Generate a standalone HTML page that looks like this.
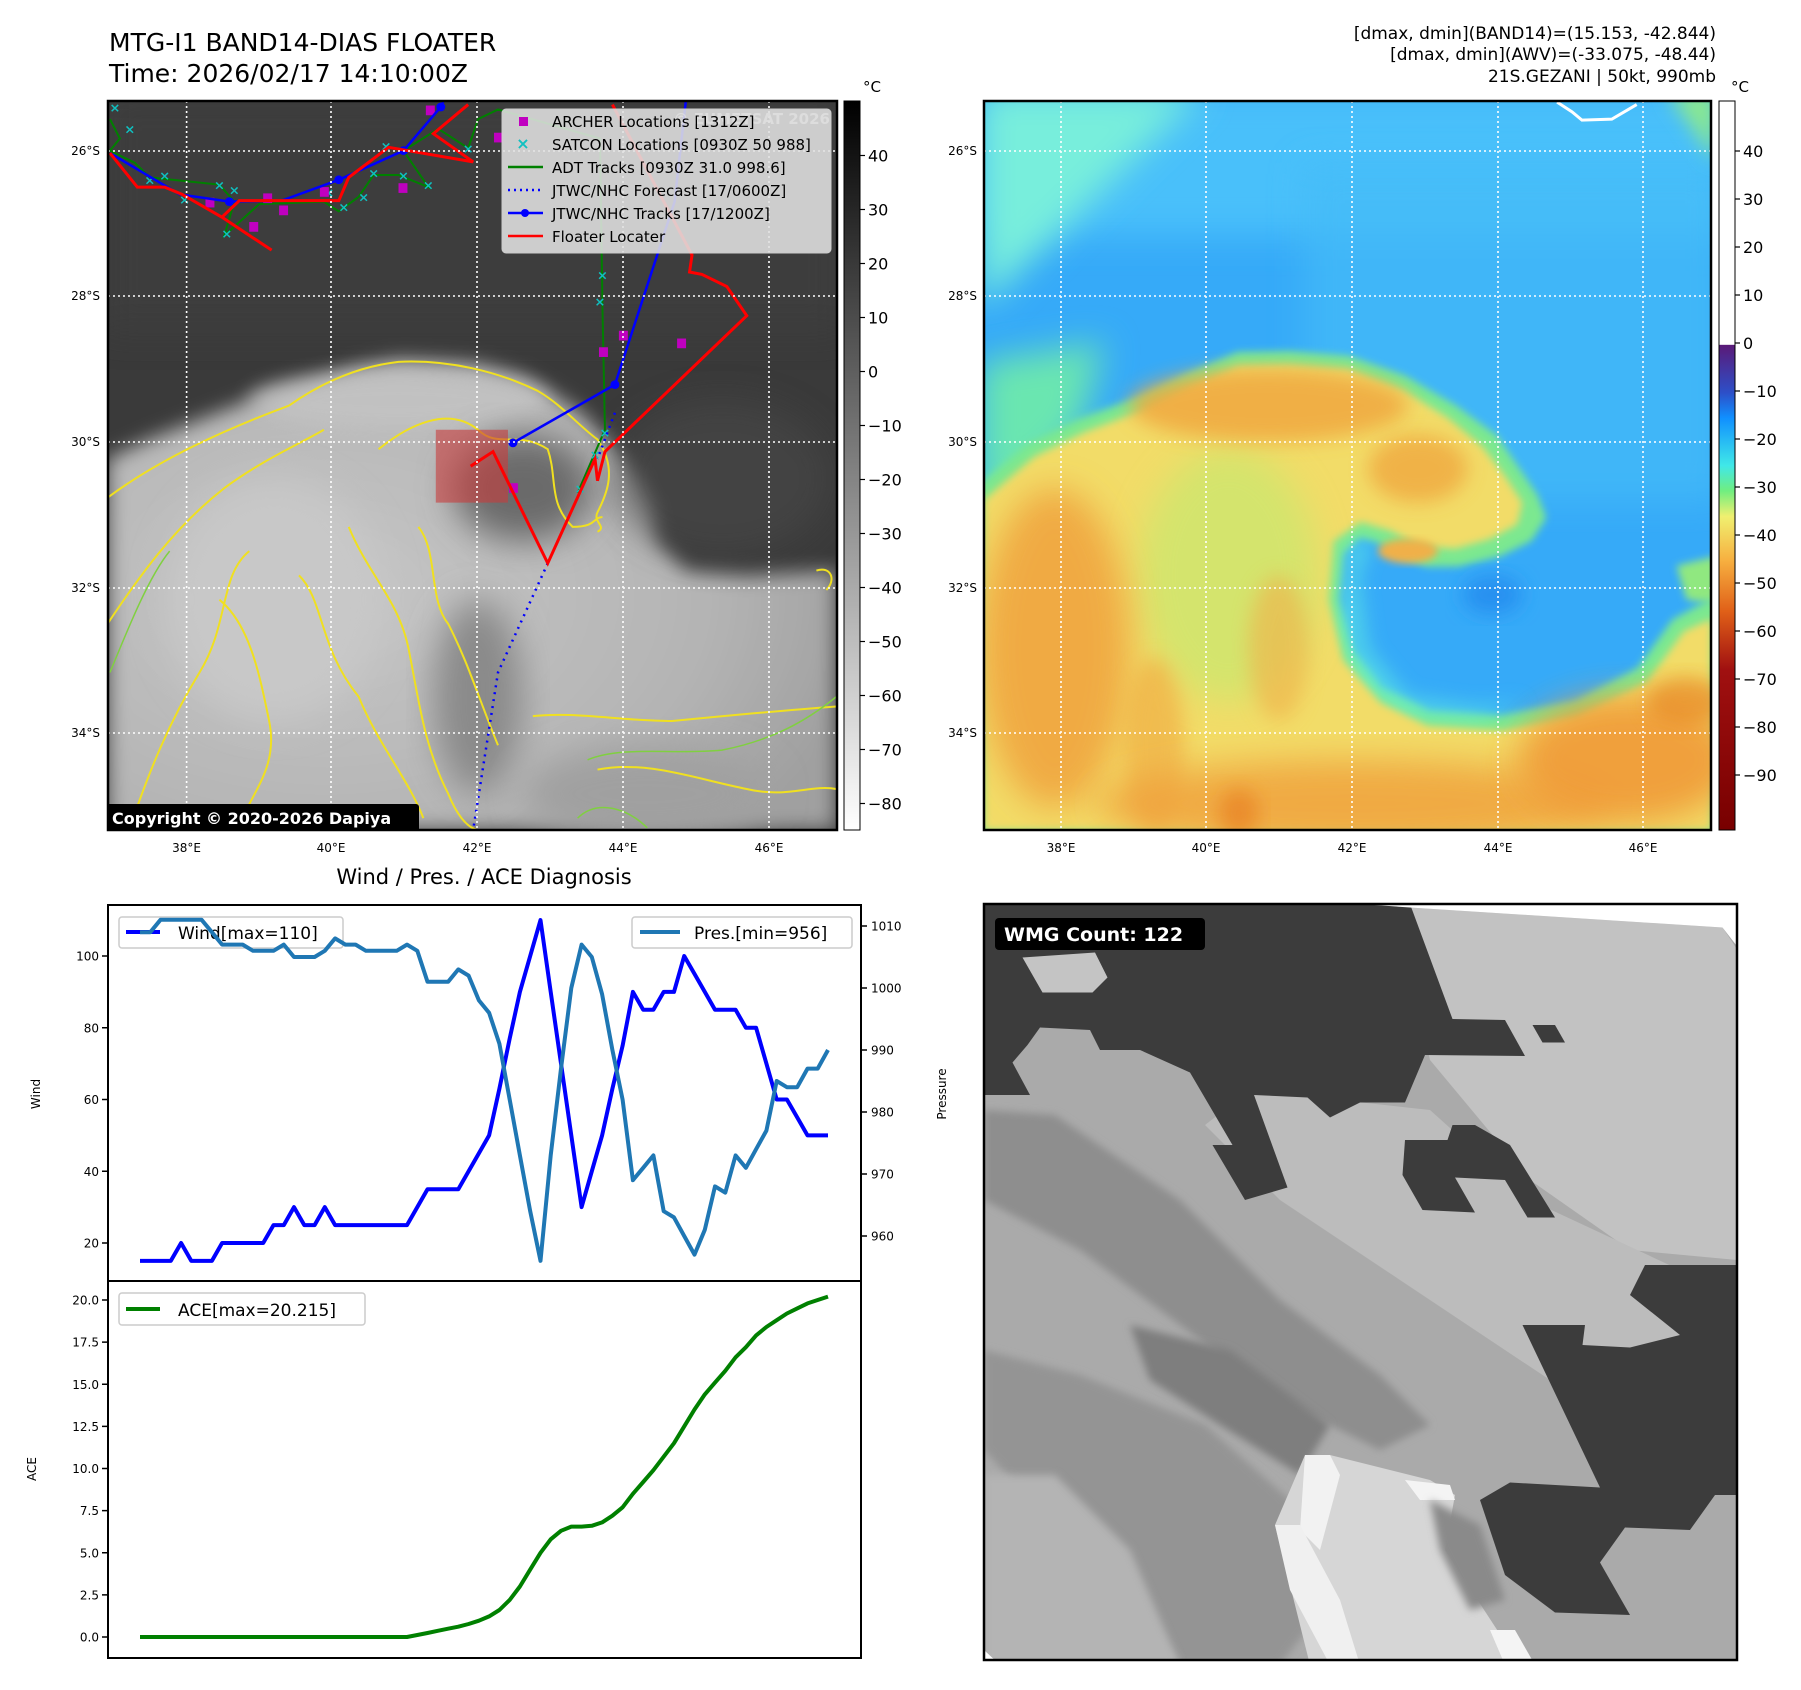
<!DOCTYPE html>
<html><head><meta charset="utf-8">
<style>
html,body{margin:0;padding:0;background:#fff;}
svg{display:block;font-family:"DejaVu Sans","Liberation Sans",sans-serif;}
</style></head>
<body>
<svg id="fig" width="1801" height="1690" viewBox="0 0 1801 1690" xmlns="http://www.w3.org/2000/svg">
<defs>
  <clipPath id="clipL"><rect x="108" y="101" width="729" height="729"/></clipPath>
  <clipPath id="clipR"><rect x="984" y="101" width="727" height="729"/></clipPath>
  <clipPath id="clipB"><rect x="984" y="904" width="753" height="756"/></clipPath>
  <filter id="blur8" x="-20%" y="-20%" width="140%" height="140%"><feGaussianBlur stdDeviation="8"/></filter>
  <filter id="blur20" x="-30%" y="-30%" width="160%" height="160%"><feGaussianBlur stdDeviation="20"/></filter>
  <filter id="blur35" x="-30%" y="-30%" width="160%" height="160%"><feGaussianBlur stdDeviation="35"/></filter>
  <linearGradient id="cbGray" x1="0" y1="0" x2="0" y2="1">
    <stop offset="0" stop-color="#000"/><stop offset="1" stop-color="#fff"/>
  </linearGradient>
  <linearGradient id="cbColor" x1="0" y1="0" x2="0" y2="1">
    <stop offset="0" stop-color="#ffffff"/>
    <stop offset="0.334" stop-color="#ffffff"/>
    <stop offset="0.335" stop-color="#5a1a78"/>
    <stop offset="0.40" stop-color="#2d4fc8"/>
    <stop offset="0.435" stop-color="#1090ff"/>
    <stop offset="0.50" stop-color="#40e8e8"/>
    <stop offset="0.535" stop-color="#70ee80"/>
    <stop offset="0.57" stop-color="#f0f070"/>
    <stop offset="0.63" stop-color="#f7b040"/>
    <stop offset="0.70" stop-color="#e06018"/>
    <stop offset="0.78" stop-color="#a01010"/>
    <stop offset="1" stop-color="#780000"/>
  </linearGradient>
  <radialGradient id="cloudG" cx="0.3" cy="0.5" r="0.75">
    <stop offset="0" stop-color="#c6c6c6"/><stop offset="0.7" stop-color="#b4b4b4"/><stop offset="1" stop-color="#a0a0a0"/>
  </radialGradient>
</defs>

<!-- Titles -->
<text x="109" y="51" font-size="25" fill="#000">MTG-I1 BAND14-DIAS FLOATER</text>
<text x="109" y="82" font-size="25" fill="#000">Time: 2026/02/17 14:10:00Z</text>
<text x="1716" y="39" font-size="17" text-anchor="end">[dmax, dmin](BAND14)=(15.153, -42.844)</text>
<text x="1716" y="60" font-size="17" text-anchor="end">[dmax, dmin](AWV)=(-33.075, -48.44)</text>
<text x="1716" y="82" font-size="17" text-anchor="end">21S.GEZANI | 50kt, 990mb</text>

<!-- ===== Left IR map ===== -->
<g clip-path="url(#clipL)">
  <rect x="108" y="101" width="729" height="729" fill="#3a3a3a"/>
  <g transform="translate(100,90) scale(0.4975,0.4854)">
    <rect x="0" y="0" width="1500" height="500" fill="#404040" filter="url(#blur35)" opacity="0.6"/>
    <polygon filter="url(#blur20)" fill="url(#cloudG)" points="15,760 100,720 200,680 300,640 430,600 520,570 600,555 700,560 760,565 850,590 900,620 960,660 1000,700 1050,760 1080,800 1110,860 1120,930 1180,990 1300,1000 1480,990 1480,1525 15,1525"/>
    <ellipse cx="600" cy="640" rx="300" ry="60" fill="#c4c4c4" filter="url(#blur20)" opacity="0.8"/>
    <ellipse cx="850" cy="820" rx="140" ry="110" fill="#6a6a6a" filter="url(#blur35)"/>
    <ellipse cx="760" cy="1250" rx="90" ry="200" fill="#8a8a8a" filter="url(#blur35)"/>
    <ellipse cx="1250" cy="800" rx="220" ry="160" fill="#4a4a4a" filter="url(#blur35)" opacity="0.6"/>
    <ellipse cx="1100" cy="1450" rx="250" ry="100" fill="#a0a0a0" filter="url(#blur35)"/>
    <ellipse cx="350" cy="1050" rx="220" ry="250" fill="#c8c8c8" filter="url(#blur35)"/>
    <g fill="none" stroke="#f0e020" stroke-width="2" vector-effect="non-scaling-stroke">
      <path vector-effect="non-scaling-stroke" d="M15,840 C120,760 250,700 380,650 C450,600 520,570 600,560 C700,555 800,580 880,620 C930,650 960,690 1000,720 C1040,780 1020,830 1000,870 C990,890 1020,900 1000,910"/>
      <path vector-effect="non-scaling-stroke" d="M560,740 C620,690 700,650 760,700 C800,740 840,700 900,740 C920,800 900,850 950,900 C1000,900 990,880 1010,880"/>
      <path vector-effect="non-scaling-stroke" d="M15,1100 C80,1000 150,900 250,820 C330,760 400,730 450,700"/>
      <path vector-effect="non-scaling-stroke" d="M60,1520 C100,1400 140,1300 200,1200 C260,1100 240,1000 300,950"/>
      <path vector-effect="non-scaling-stroke" d="M500,900 C540,1000 600,1050 620,1150 C640,1250 650,1350 700,1450 C720,1500 740,1520 760,1525"/>
      <path vector-effect="non-scaling-stroke" d="M640,900 C680,950 660,1050 700,1100 C740,1180 760,1250 800,1350"/>
      <path vector-effect="non-scaling-stroke" d="M870,1290 C950,1280 1050,1300 1150,1300 C1250,1290 1350,1280 1480,1270"/>
      <path vector-effect="non-scaling-stroke" d="M1000,1400 C1100,1380 1200,1420 1300,1440 C1380,1460 1430,1430 1480,1440"/>
      <path vector-effect="non-scaling-stroke" d="M240,1050 C300,1100 320,1200 340,1300 C360,1400 300,1450 280,1520"/>
      <path vector-effect="non-scaling-stroke" d="M400,1000 C450,1050 440,1150 520,1250 C560,1350 620,1420 650,1500"/>
      <path vector-effect="non-scaling-stroke" d="M1440,990 C1470,980 1480,1010 1460,1030"/>
    </g>
    <g fill="none" stroke="#80d040" stroke-width="1.5">
      <path vector-effect="non-scaling-stroke" d="M980,1380 C1050,1350 1150,1370 1250,1360 C1350,1340 1420,1300 1480,1250"/>
      <path vector-effect="non-scaling-stroke" d="M20,1200 C60,1100 100,1000 140,950"/>
      <path vector-effect="non-scaling-stroke" d="M960,1500 C1000,1460 1060,1480 1100,1520"/>
    </g>
    <polygon points="675,700 820,700 820,850 675,850" fill="rgba(200,60,60,0.6)"/>
    <!-- tracks -->
    <polyline fill="none" stroke="#008000" stroke-width="2" vector-effect="non-scaling-stroke" points="20,60 40,100 20,125 70,150 100,180 240,195 270,230 250,300 320,235 450,230 480,250 520,220 550,175 600,175 660,200 610,125 680,80 740,120 760,60 800,40 1005,100 1010,450 1015,700 960,830"/>
    <g fill="#10c0c0" font-size="26" font-weight="bold" text-anchor="middle">
      <text x="30" y="45">×</text><text x="60" y="90">×</text><text x="100" y="195">×</text><text x="130" y="185">×</text><text x="170" y="235">×</text><text x="240" y="205">×</text><text x="270" y="215">×</text><text x="255" y="305">×</text><text x="460" y="220">×</text><text x="490" y="250">×</text><text x="530" y="230">×</text><text x="550" y="180">×</text><text x="575" y="125">×</text><text x="610" y="185">×</text><text x="660" y="205">×</text><text x="740" y="130">×</text><text x="1010" y="390">×</text><text x="1005" y="445">×</text><text x="1015" y="715">×</text><text x="995" y="760">×</text><text x="965" y="830">×</text>
    </g>
    <g fill="#c000c0">
      <rect x="655" y="32" width="18" height="20"/><rect x="792" y="88" width="18" height="20"/><rect x="328" y="213" width="18" height="20"/><rect x="212" y="222" width="18" height="20"/><rect x="360" y="238" width="18" height="20"/><rect x="300" y="272" width="18" height="20"/><rect x="442" y="200" width="18" height="20"/><rect x="600" y="192" width="18" height="20"/><rect x="1043" y="496" width="18" height="20"/><rect x="1003" y="530" width="18" height="20"/><rect x="1160" y="512" width="18" height="20"/><rect x="822" y="810" width="18" height="20"/>
    </g>
    <polyline fill="none" stroke="#0000ff" stroke-width="2.5" vector-effect="non-scaling-stroke" points="20,130 160,215 260,230 365,228 480,185 610,125 685,35 700,0"/>
    <polyline fill="none" stroke="#0000ff" stroke-width="2.5" vector-effect="non-scaling-stroke" points="830,727 1035,607 1155,230 1180,0"/>
    <g fill="#0000ff"><circle cx="480" cy="185" r="9"/><circle cx="260" cy="230" r="9"/><circle cx="685" cy="35" r="9"/><circle cx="1035" cy="607" r="9"/><circle cx="830" cy="727" r="9"/><circle cx="610" cy="125" r="9"/></g>
    <polyline fill="none" stroke="#0000ff" stroke-width="2.5" stroke-dasharray="2,5" vector-effect="non-scaling-stroke" points="900,975 800,1200 750,1525"/>
    <polyline fill="none" stroke="#0000ff" stroke-width="2.5" stroke-dasharray="2,5" vector-effect="non-scaling-stroke" points="1035,665 1000,760"/>
    <polyline fill="none" stroke="#ff0000" stroke-width="3" vector-effect="non-scaling-stroke" points="20,130 75,200 130,200 165,215 245,262 345,330"/>
    <polyline fill="none" stroke="#ff0000" stroke-width="3" vector-effect="non-scaling-stroke" points="245,262 280,228 480,228 500,180 580,118 750,148 670,90 740,30"/>
    <polyline fill="none" stroke="#ff0000" stroke-width="3" vector-effect="non-scaling-stroke" points="1030,30 1190,340 1185,375 1210,380 1260,405 1300,465 1015,745 1000,805 995,760 900,975 790,745 745,775"/>
  </g>
  <!-- grid -->
  <g stroke="#fff" stroke-width="1.6" stroke-dasharray="2,3">
    <line x1="186.6" y1="101" x2="186.6" y2="830"/><line x1="331" y1="101" x2="331" y2="830"/><line x1="477" y1="101" x2="477" y2="830"/><line x1="623" y1="101" x2="623" y2="830"/><line x1="769" y1="101" x2="769" y2="830"/>
    <line x1="108" y1="151" x2="837" y2="151"/><line x1="108" y1="296" x2="837" y2="296"/><line x1="108" y1="442" x2="837" y2="442"/><line x1="108" y1="588" x2="837" y2="588"/><line x1="108" y1="733" x2="837" y2="733"/>
  </g>
  <text x="830" y="124" font-size="15" font-weight="bold" fill="#ddd" text-anchor="end" opacity="0.8">© EUMETSAT 2026</text>
  <!-- legend -->
  <g>
    <rect x="502" y="109" width="329" height="144" rx="4" fill="rgba(225,225,225,0.88)" stroke="#ccc"/>
    <rect x="519" y="117" width="9" height="9" fill="#c000c0"/>
    <text x="523" y="149" font-size="16" font-weight="bold" fill="#10c0c0" text-anchor="middle">×</text>
    <line x1="508" y1="167" x2="543" y2="167" stroke="#008000" stroke-width="2.5"/>
    <line x1="508" y1="190" x2="543" y2="190" stroke="#0000ff" stroke-width="2.5" stroke-dasharray="2,4"/>
    <line x1="508" y1="213" x2="543" y2="213" stroke="#0000ff" stroke-width="2.5"/><circle cx="525" cy="213" r="4" fill="#0000ff"/>
    <line x1="508" y1="236" x2="543" y2="236" stroke="#ff0000" stroke-width="2.5"/>
    <g font-size="15" fill="#000">
      <text x="552" y="127">ARCHER Locations [1312Z]</text>
      <text x="552" y="150">SATCON Locations [0930Z 50 988]</text>
      <text x="552" y="173">ADT Tracks [0930Z 31.0 998.6]</text>
      <text x="552" y="196">JTWC/NHC Forecast [17/0600Z]</text>
      <text x="552" y="219">JTWC/NHC Tracks [17/1200Z]</text>
      <text x="552" y="242">Floater Locater</text>
    </g>
  </g>
  <rect x="106" y="804" width="313" height="28" rx="3" fill="#000"/>
  <text x="112" y="824" font-size="16" font-weight="bold" fill="#fff">Copyright © 2020-2026 Dapiya</text>
</g>
<rect x="108" y="101" width="729" height="729" fill="none" stroke="#000" stroke-width="2.5"/>

<!-- left axes labels -->
<g font-size="12" fill="#000" text-anchor="end">
  <text x="100" y="155">26°S</text><text x="100" y="300">28°S</text><text x="100" y="446">30°S</text><text x="100" y="592">32°S</text><text x="100" y="737">34°S</text>
</g>
<g font-size="12" fill="#000" text-anchor="middle">
  <text x="186.6" y="852">38°E</text><text x="331" y="852">40°E</text><text x="477" y="852">42°E</text><text x="623" y="852">44°E</text><text x="769" y="852">46°E</text>
</g>
<!-- left colorbar -->
<rect x="844" y="101" width="16" height="729" fill="url(#cbGray)" stroke="#000" stroke-width="1"/>
<text x="863" y="92" font-size="15">°C</text>
<g id="cbLticks" font-size="16" fill="#000"></g>

<!-- ===== Right AWV map ===== -->
<g clip-path="url(#clipR)">
  <rect x="984" y="101" width="727" height="729" fill="#36aaf8"/>
  <g transform="translate(980,90) scale(0.4975,0.4854)">
    <rect x="0" y="0" width="1500" height="300" fill="#48c0fa" filter="url(#blur35)"/>
    <rect x="650" y="150" width="850" height="700" fill="#44bcf8" filter="url(#blur35)" opacity="0.7"/>
    <polygon points="0,0 450,0 200,250 0,450" fill="#78eedc" filter="url(#blur35)"/>
    <polygon points="0,560 250,520 200,700 0,900" fill="#6ae6b0" filter="url(#blur35)"/>
    <polygon points="1380,0 1480,0 1480,150" fill="#8ae890" filter="url(#blur20)"/>
    <polygon points="1400,980 1480,960 1480,1060 1420,1050" fill="#90e880" filter="url(#blur8)"/>
    <polyline fill="none" stroke="#fff" stroke-width="3" vector-effect="non-scaling-stroke" points="1160,25 1190,45 1210,62 1270,60 1320,30"/>
    <g id="warm">
      <polygon fill="#7ce890" stroke="#7ce890" stroke-width="24" stroke-linejoin="round" filter="url(#blur8)" points="8,820 100,740 200,690 330,640 420,595 520,552 620,550 740,560 850,600 950,660 1030,720 1070,780 1110,840 1125,880 1100,920 1040,950 960,970 900,970 850,950 800,920 760,910 720,950 710,1050 740,1160 800,1240 900,1290 1050,1300 1200,1270 1330,1200 1400,1100 1470,1060 1470,1525 8,1525"/>
      <polygon fill="#60eee0" opacity="0.6" filter="url(#blur20)" points="740,930 790,930 760,1000 780,1150 860,1250 1000,1270 1100,1260 1000,1300 850,1290 760,1220 720,1100"/>
      <polygon fill="#f2dc68" filter="url(#blur8)" points="8,845 110,755 210,705 330,658 420,612 520,568 620,566 740,575 850,618 940,675 1010,735 1055,795 1090,850 1080,895 1025,925 955,945 885,940 825,908 765,890 710,930 700,1050 730,1175 805,1262 900,1310 1050,1320 1200,1290 1340,1220 1415,1115 1470,1090 1470,1525 8,1525"/>
    </g>
    <ellipse cx="500" cy="1000" rx="180" ry="260" fill="#c8e870" filter="url(#blur35)" opacity="0.7"/>
    <ellipse cx="580" cy="650" rx="280" ry="75" fill="#f0a840" filter="url(#blur20)" opacity="0.85"/>
    <ellipse cx="880" cy="780" rx="100" ry="70" fill="#f0a840" filter="url(#blur20)" opacity="0.8"/>
    <ellipse cx="150" cy="1150" rx="150" ry="330" fill="#f0a23e" filter="url(#blur35)" opacity="0.85"/>
    <ellipse cx="350" cy="1350" rx="60" ry="180" fill="#f0a840" filter="url(#blur20)" opacity="0.6"/>
    <ellipse cx="600" cy="1150" rx="60" ry="150" fill="#f0b048" filter="url(#blur20)" opacity="0.6"/>
    <ellipse cx="750" cy="1470" rx="520" ry="90" fill="#f0a23e" filter="url(#blur35)" opacity="0.85"/>
    <ellipse cx="1300" cy="1380" rx="220" ry="130" fill="#f09a38" filter="url(#blur35)" opacity="0.9"/>
    <ellipse cx="520" cy="1490" rx="40" ry="50" fill="#e88020" filter="url(#blur20)" opacity="0.7"/>
    <ellipse cx="1420" cy="1260" rx="80" ry="50" fill="#e88828" filter="url(#blur20)" opacity="0.7"/>
    <ellipse cx="860" cy="950" rx="60" ry="25" fill="#f0b048" filter="url(#blur8)"/>
    <ellipse cx="1030" cy="1040" rx="60" ry="40" fill="#2890f0" filter="url(#blur20)"/>
  </g>
  <g stroke="#fff" stroke-width="1.6" stroke-dasharray="2,3">
    <line x1="1061" y1="101" x2="1061" y2="830"/><line x1="1206" y1="101" x2="1206" y2="830"/><line x1="1352" y1="101" x2="1352" y2="830"/><line x1="1498" y1="101" x2="1498" y2="830"/><line x1="1643" y1="101" x2="1643" y2="830"/>
    <line x1="984" y1="151" x2="1711" y2="151"/><line x1="984" y1="296" x2="1711" y2="296"/><line x1="984" y1="442" x2="1711" y2="442"/><line x1="984" y1="588" x2="1711" y2="588"/><line x1="984" y1="733" x2="1711" y2="733"/>
  </g>
</g>
<rect x="984" y="101" width="727" height="729" fill="none" stroke="#000" stroke-width="2.5"/>
<g font-size="12" fill="#000" text-anchor="end">
  <text x="977" y="155">26°S</text><text x="977" y="300">28°S</text><text x="977" y="446">30°S</text><text x="977" y="592">32°S</text><text x="977" y="737">34°S</text>
</g>
<g font-size="12" fill="#000" text-anchor="middle">
  <text x="1061" y="852">38°E</text><text x="1206" y="852">40°E</text><text x="1352" y="852">42°E</text><text x="1498" y="852">44°E</text><text x="1643" y="852">46°E</text>
</g>
<rect x="1719" y="101" width="16" height="729" fill="url(#cbColor)" stroke="#000" stroke-width="1"/>
<text x="1731" y="92" font-size="15">°C</text>
<g id="cbRticks" font-size="16" fill="#000"></g>

<!-- ===== Diagnosis chart ===== -->
<text x="484" y="884" font-size="21" text-anchor="middle">Wind / Pres. / ACE Diagnosis</text>
<rect x="108" y="905" width="753" height="376" fill="#fff"/>
<rect x="108" y="1281" width="753" height="377" fill="#fff"/>
<g id="windAxes"></g>
<g id="aceAxes"></g>
<rect x="108" y="905" width="753" height="376" fill="none" stroke="#000" stroke-width="2"/>
<rect x="108" y="1281" width="753" height="377" fill="none" stroke="#000" stroke-width="2"/>
<text transform="translate(40,1094) rotate(-90)" font-size="12" text-anchor="middle">Wind</text>
<text transform="translate(946,1094) rotate(-90)" font-size="12" text-anchor="middle">Pressure</text>
<text transform="translate(36,1469) rotate(-90)" font-size="12" text-anchor="middle">ACE</text>

<!-- ===== WMG panel ===== -->
<g clip-path="url(#clipB)">
  <rect x="984" y="904" width="753" height="756" fill="#aaaaaa"/>
  <g transform="translate(980,900) scale(0.5)">
    <polygon fill="#c2c2c2" points="860,15 1485,55 1515,100 1515,720 1300,700 1100,560 900,320 840,60"/>
    <polygon fill="#bcbcbc" points="540,380 900,420 1100,600 1400,740 1515,900 1515,1050 1200,1000 900,800 600,600 450,450"/>
    <polygon fill="#8e8e8e" filter="url(#blur8)" points="8,420 150,430 400,600 600,800 800,950 900,1050 800,1100 600,1000 400,850 200,700 8,600"/>
    <polygon fill="#949494" filter="url(#blur8)" points="8,900 200,950 450,1050 620,1200 700,1400 600,1530 400,1530 250,1350 100,1200 8,1100"/>
    <polygon fill="#b4b4b4" filter="url(#blur8)" points="8,1150 150,1150 300,1300 400,1530 8,1530"/>
    <polygon fill="#7e7e7e" filter="url(#blur8)" points="300,850 500,900 700,1050 640,1150 480,1050 340,960"/>
    <polygon fill="#d6d6d6" points="650,1110 700,1110 900,1160 950,1190 930,1300 1080,1530 660,1530 590,1250"/>
    <polygon fill="#f2f2f2" points="650,1110 700,1110 720,1150 680,1300 640,1260"/>
    <polygon fill="#f0f0f0" points="590,1250 640,1250 720,1400 760,1530 700,1530 620,1380"/>
    <polygon fill="#f4f4f4" points="850,1160 940,1170 950,1200 880,1200"/>
    <polygon fill="#f4f4f4" points="1020,1460 1070,1460 1110,1530 1050,1530"/>
    <polygon fill="#8a8a8a" filter="url(#blur8)" points="900,1200 1000,1250 1050,1400 980,1420 920,1300"/>
    <polygon fill="#3c3c3c" points="8,8 860,8 945,238 1050,240 1090,312 890,310 850,405 760,405 700,435 655,395 548,390 615,575 530,600 465,490 505,490 420,345 320,300 240,300 220,260 120,255 95,290 65,325 100,390 8,390"/>
    <polygon fill="#c4c4c4" points="85,115 230,105 255,155 225,185 125,185"/>
    <polygon fill="#3c3c3c" points="1105,250 1150,250 1170,285 1125,285"/>
    <polygon fill="#3c3c3c" points="850,480 935,480 945,450 990,450 1060,490 1150,635 1095,635 1050,560 950,555 990,625 885,620 845,550"/>
    <polygon fill="#3c3c3c" points="1330,730 1515,730 1515,1190 1470,1190 1420,1260 1290,1255 1240,1325 1300,1430 1150,1425 1050,1350 1000,1200 1060,1165 1240,1175 1085,850 1210,850 1205,890 1300,895 1400,870 1300,790"/>
    <polygon fill="#ffffff" points="760,8 1520,8 1520,100 1485,55 860,15"/>
    <polygon fill="#ffffff" points="8,1500 40,1530 8,1530"/>
  </g>
  <rect x="995" y="918" width="210" height="32" rx="4" fill="#000"/>
  <text x="1004" y="941" font-size="19" font-weight="bold" fill="#fff">WMG Count: 122</text>
</g>
<rect x="984" y="904" width="753" height="756" fill="none" stroke="#000" stroke-width="2.5"/>
</svg>

<script>
// ---- chart data ----
const windValues = [15,15,15,15,20,15,15,15,20,20,20,20,20,25,25,30,25,25,30,25,25,25,25,25,25,25,25,30,35,35,35,35,40,45,50,63,77,90,100,110,90,70,50,30,40,50,63,75,90,85,85,90,90,100,95,90,85,85,85,80,80,70,60,60,55,50,50,50];
const presValues = [1009,1009,1011,1011,1011,1011,1011,1009,1007,1007,1007,1006,1006,1006,1007,1005,1005,1005,1006,1008,1007,1007,1006,1006,1006,1006,1007,1006,1001,1001,1001,1003,1002,998,996,991,982,973,964,956,973,987,1000,1007,1005,999,990,982,969,971,973,964,963,960,957,961,968,967,973,971,974,977,985,984,984,987,987,990];
const aceValues = [0,0,0,0,0,0,0,0,0,0,0,0,0,0,0,0,0,0,0,0,0,0,0,0,0,0,0,0.12,0.24,0.37,0.49,0.61,0.77,0.97,1.22,1.6,2.2,3.0,4.0,5.0,5.8,6.3,6.55,6.55,6.6,6.8,7.2,7.7,8.5,9.2,9.9,10.7,11.5,12.5,13.5,14.4,15.1,15.8,16.6,17.2,17.9,18.4,18.8,19.2,19.5,19.8,20.0,20.2];
const windTicks = [20,40,60,80,100];
const presTicks = [960,970,980,990,1000,1010];
const aceTicks = [0.0,2.5,5.0,7.5,10.0,12.5,15.0,17.5,20.0];
const cbLeftTicks = [40,30,20,10,0,-10,-20,-30,-40,-50,-60,-70,-80];
const cbRightTicks = [40,30,20,10,0,-10,-20,-30,-40,-50,-60,-70,-80,-90];

const NS = "http://www.w3.org/2000/svg";
function mk(tag, attrs, parent){const e=document.createElementNS(NS,tag);for(const k in attrs)e.setAttribute(k,attrs[k]);parent.appendChild(e);return e;}

// axis functions
const X0=140, X1=828;
function xIdx(i){return X0 + i*(X1-X0)/(windValues.length-1);}
function yWind(w){return 1243 - (w-20)*(287/80);}
function yPres(p){return 1236 - (p-960)*6.2;}
function yAce(a){return 1637 - a*(337/20);}
function yCbL(v){return 155.5 + (40-v)*5.4;}
function yCbR(v){return 151 + (40-v)*4.8;}

const wA=document.getElementById('windAxes');
const aA=document.getElementById('aceAxes');

windTicks.forEach(t=>{
  const y=yWind(t);
  const l=mk('line',{x1:102,y1:y,x2:108,y2:y,stroke:'#000','stroke-width':1.5},wA);
  
  
  const tx=mk('text',{x:99,y:y+4.5,'font-size':12,'text-anchor':'end'},wA);
  tx.textContent=String(t);
  
  
});
presTicks.forEach(t=>{
  const y=yPres(t);
  const l=mk('line',{x1:861,y1:y,x2:867,y2:y,stroke:'#000','stroke-width':1.5},wA);
  
  
  const tx=mk('text',{x:871,y:y+4.5,'font-size':12},wA);
  tx.textContent=String(t);
  
  
});
aceTicks.forEach(t=>{
  const y=yAce(t);
  const l=mk('line',{x1:102,y1:y,x2:108,y2:y,stroke:'#000','stroke-width':1.5},aA);
  
  
  const tx=mk('text',{x:99,y:y+4.5,'font-size':12,'text-anchor':'end'},aA);
  tx.textContent=t.toFixed(1);
  
  
});

const wl=mk('g',{},wA);


mk('rect',{x:119,y:917,width:224,height:31,rx:3,fill:'rgba(255,255,255,0.8)',stroke:'#ccc','stroke-width':1.5},wl);
mk('line',{x1:126,y1:932,x2:160,y2:932,stroke:'#0000ff','stroke-width':4},wl);
const wlt=mk('text',{x:178,y:939,'font-size':17},wl);wlt.textContent='Wind[max=110]';

const pl=mk('g',{},wA);


mk('rect',{x:632,y:917,width:220,height:31,rx:3,fill:'rgba(255,255,255,0.8)',stroke:'#ccc','stroke-width':1.5},pl);
mk('line',{x1:640,y1:932,x2:680,y2:932,stroke:'#1f77b4','stroke-width':4},pl);
const plt=mk('text',{x:694,y:939,'font-size':17},pl);plt.textContent='Pres.[min=956]';

let d='';
windValues.forEach((w,i)=>{d+=(i?'L':'M')+xIdx(i).toFixed(1)+','+yWind(w).toFixed(1);});
const wp=mk('path',{d:d,fill:'none',stroke:'#0000ff','stroke-width':4,'stroke-linejoin':'round'},wA);



d='';
presValues.forEach((p,i)=>{d+=(i?'L':'M')+xIdx(i).toFixed(1)+','+yPres(p).toFixed(1);});
const pp=mk('path',{d:d,fill:'none',stroke:'#1f77b4','stroke-width':4,'stroke-linejoin':'round'},wA);



d='';
aceValues.forEach((a,i)=>{d+=(i?'L':'M')+xIdx(i).toFixed(1)+','+yAce(a).toFixed(1);});
const ap=mk('path',{d:d,fill:'none',stroke:'#008000','stroke-width':4,'stroke-linejoin':'round'},aA);



const al=mk('g',{},aA);


mk('rect',{x:119,y:1293,width:246,height:32,rx:3,fill:'rgba(255,255,255,0.8)',stroke:'#ccc','stroke-width':1.5},al);
mk('line',{x1:126,y1:1309,x2:160,y2:1309,stroke:'#008000','stroke-width':4},al);
const alt=mk('text',{x:178,y:1316,'font-size':17},al);alt.textContent='ACE[max=20.215]';

const cl=document.getElementById('cbLticks');
cbLeftTicks.forEach(t=>{
  const y=yCbL(t);
  const l=mk('line',{x1:860,y1:y,x2:865,y2:y,stroke:'#000','stroke-width':1.2},cl);
  
  
  const tx=mk('text',{x:868,y:y+6},cl);
  tx.textContent=(t<0?'\u2212'+(-t):String(t));
  
  
});
const cr=document.getElementById('cbRticks');
cbRightTicks.forEach(t=>{
  const y=yCbR(t);
  const l=mk('line',{x1:1735,y1:y,x2:1740,y2:y,stroke:'#000','stroke-width':1.2},cr);
  
  
  const tx=mk('text',{x:1743,y:y+6},cr);
  tx.textContent=(t<0?'\u2212'+(-t):String(t));
  
  
});
</script>
</body></html>
